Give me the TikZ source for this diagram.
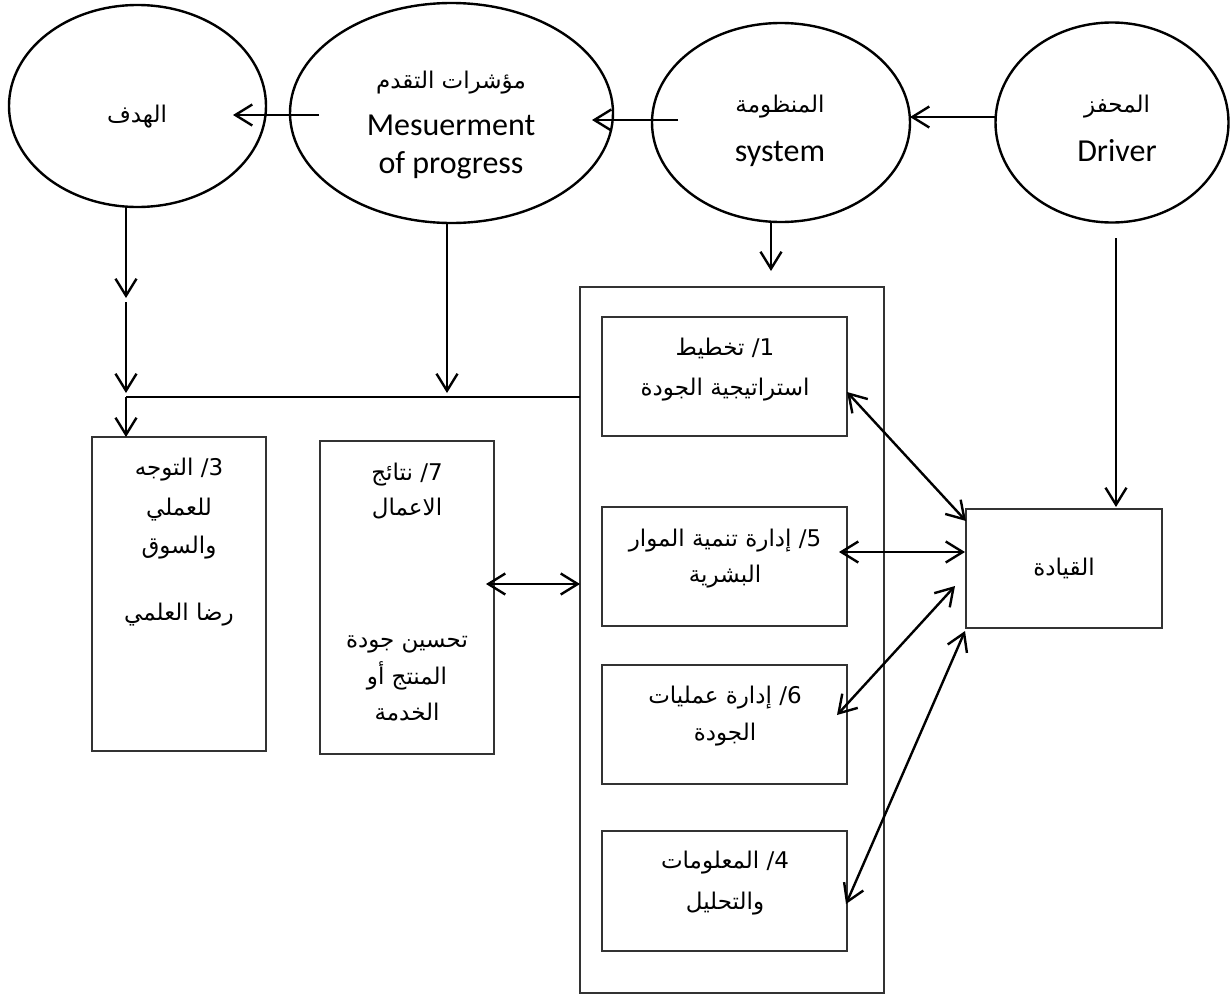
\documentclass[tikz,border=0pt]{standalone}
\usepackage{fontspec}
\setmainfont{Carlito}
\newfontfamily\arabicfont[Script=Arabic]{DejaVu Sans}
\TeXXeTstate=1
\usetikzlibrary{arrows.meta,shapes.geometric,calc}

\tikzset{
  bubble/.style={ellipse, draw, line width=2.4pt, inner sep=0pt},
  panel/.style={rectangle, draw=black!80, line width=1.3pt, inner sep=0pt},
  barb/.tip={Straight Barb[length=17pt,width=21pt]},
  link/.style={line width=2.4pt, -barb},
  duplex/.style={line width=2.4pt, barb-barb},
  wire/.style={line width=2.4pt},
  artext/.style={font=\arabicfont\fontsize{23}{28}\selectfont, anchor=base, inner sep=0pt},
  arbig/.style={font=\arabicfont\fontsize{23}{28}\selectfont, anchor=base, inner sep=0pt},
  entext/.style={font=\fontsize{32}{38}\selectfont, anchor=base, inner sep=0pt},
}

\begin{document}
\begin{tikzpicture}[x=1pt,y=-1pt]
\useasboundingbox (0,0) rectangle (1230,996);

% top row of ellipses
\node[bubble, minimum width=257pt, minimum height=202pt] (goal) at (137.5,106) {};
\node[bubble, minimum width=323pt, minimum height=220pt] (measure) at (451.5,113) {};
\node[bubble, minimum width=258pt, minimum height=199pt] (system) at (781,122.5) {};
\node[bubble, minimum width=233pt, minimum height=200pt] (driver) at (1112,122.5) {};

\node[arbig] (goal-ar) at (137,122) {\beginR الهدف\endR};
\node[arbig] (measure-ar) at (451,88) {\beginR مؤشرات التقدم\endR};
\node[entext] (measure-en1) at (451,135) {Mesuerment};
\node[entext] (measure-en2) at (451,173) {of progress};
\node[arbig] (system-ar) at (780,112) {\beginR المنظومة\endR};
\node[entext] (system-en) at (780,161) {system};
\node[arbig] (driver-ar) at (1117,112) {\beginR المحفز\endR};
\node[entext] (driver-en) at (1117,161) {Driver};

% boxes
\node[panel, minimum width=174pt, minimum height=314pt] (orient) at (179,594) {};
\node[panel, minimum width=174pt, minimum height=313pt] (results) at (407,597.5) {};
\node[panel, minimum width=304pt, minimum height=706pt] (frame) at (732,640) {};
\node[panel, minimum width=245pt, minimum height=119pt] (plan) at (724.5,376.5) {};
\node[panel, minimum width=245pt, minimum height=119pt] (people) at (724.5,566.5) {};
\node[panel, minimum width=245pt, minimum height=119pt] (process) at (724.5,724.5) {};
\node[panel, minimum width=245pt, minimum height=120pt] (info) at (724.5,891) {};
\node[panel, minimum width=196pt, minimum height=119pt] (lead) at (1064,568.5) {};

% box texts
\node[artext] (orient-1) at (179,475) {\beginR\beginL 3/\endL{} التوجه\endR};
\node[artext] (orient-2) at (179,515) {\beginR للعملي\endR};
\node[artext] (orient-3) at (179,553) {\beginR والسوق\endR};
\node[artext] (orient-4) at (179,620) {\beginR رضا العلمي\endR};

\node[artext] (results-1) at (407,480) {\beginR\beginL 7/\endL{} نتائج\endR};
\node[artext] (results-2) at (407,515) {\beginR الاعمال\endR};
\node[artext] (results-3) at (407,647) {\beginR تحسين جودة\endR};
\node[artext] (results-4) at (407,684) {\beginR المنتج أو\endR};
\node[artext] (results-5) at (407,720) {\beginR الخدمة\endR};

\node[artext] (plan-1) at (725,355) {\beginR\beginL 1/\endL{} تخطيط\endR};
\node[artext] (plan-2) at (725,395) {\beginR استراتيجية الجودة\endR};
\node[artext] (people-1) at (725,546) {\beginR\beginL 5/\endL{} إدارة تنمية الموار\endR};
\node[artext] (people-2) at (725,582) {\beginR البشرية\endR};
\node[artext] (process-1) at (725,703) {\beginR\beginL 6/\endL{} إدارة عمليات\endR};
\node[artext] (process-2) at (725,740) {\beginR الجودة\endR};
\node[artext] (info-1) at (725,868) {\beginR\beginL 4/\endL{} المعلومات\endR};
\node[artext] (info-2) at (725,909) {\beginR والتحليل\endR};
\node[artext] (lead-1) at (1064,575) {\beginR القيادة\endR};

% connector end points
\coordinate (m-out) at (319,115);
\coordinate (g-in) at (233,115);
\coordinate (s-out) at (678,120);
\coordinate (m-in) at (592,120);
\coordinate (d-out) at (995,117);
\coordinate (s-in) at (910,117);
\coordinate (g-down) at (126,207);
\coordinate (g-mid1) at (126,298);
\coordinate (g-mid2) at (126,302);
\coordinate (bus-w) at (126,397);
\coordinate (bus-tip) at (126,393);
\coordinate (o-top) at (126,437);
\coordinate (m-down) at (447,223);
\coordinate (m-tip) at (447,393);
\coordinate (bus-e) at (580,397);
\coordinate (s-down) at (771,222);
\coordinate (s-tip) at (771,271);
\coordinate (d-down) at (1116,238);
\coordinate (d-tip) at (1116,507);
\coordinate (r-in) at (486,584);
\coordinate (f-in) at (580,584);
\coordinate (p1) at (847,392);
\coordinate (l1) at (966,521);
\coordinate (p5) at (839,552);
\coordinate (l5) at (965,552);
\coordinate (p6) at (837,715);
\coordinate (l6) at (955,586);
\coordinate (p4) at (846,904);
\coordinate (l4) at (965,631);

% connectors
\draw[link] (m-out) -- (g-in);
\draw[link] (s-out) -- (m-in);
\draw[link] (d-out) -- (s-in);
\draw[link] (g-down) -- (g-mid1);
\draw[link] (g-mid2) -- (bus-tip);
\draw[link] (bus-w) -- (o-top);
\draw[link] (m-down) -- (m-tip);
\draw[wire] (bus-w) -- (bus-e);
\draw[link] (s-down) -- (s-tip);
\draw[link] (d-down) -- (d-tip);
\draw[duplex] (r-in) -- (f-in);
\draw[duplex] (p1) -- (l1);
\draw[duplex] (p5) -- (l5);
\draw[duplex] (p6) -- (l6);
\draw[duplex] (p4) -- (l4);
\end{tikzpicture}
\end{document}
